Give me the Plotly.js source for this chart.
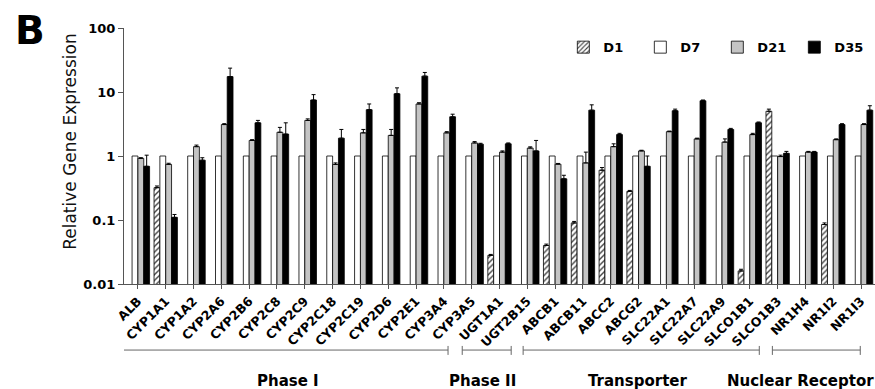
<!DOCTYPE html>
<html>
<head>
<meta charset="utf-8">
<script src="https://cdn.plot.ly/plotly-3.0.1.min.js"></script>
<style>html,body{margin:0;padding:0;background:#fff;}#chart{width:875px;height:389px;}</style>
</head>
<body>
<div id="chart"></div>
<script>
// ---- data ----
const genes = ["ALB","CYP1A1","CYP1A2","CYP2A6","CYP2B6","CYP2C8","CYP2C9","CYP2C18","CYP2C19","CYP2D6","CYP2E1","CYP3A4","CYP3A5","UGT1A1","UGT2B15","ABCB1","ABCB11","ABCC2","ABCG2","SLC22A1","SLC22A7","SLC22A9","SLCO1B1","SLCO1B3","NR1H4","NR1I2","NR1I3"];
const seriesNames = ["D1","D7","D21","D35"];
const d1  = [null,0.32,null,null,null,null,null,null,null,null,null,null,null,0.028,null,0.040,0.09,0.6,0.28,null,null,null,0.016,5.0,null,0.085,null];
const d1Err = [0,0.02,0,0,0,0,0,0,0,0,0,0,0,0.001,0,0.002,0.005,0.06,0.01,0,0,0,0.001,0.4,0,0.005,0];
const d7  = [1,1,1,1,1,1,1,1,1,1,1,1,1,1,1,1,1,1,1,1,1,1,1,1,1,1,1];
const d21 = [0.92,0.74,1.4,3.1,1.75,2.35,3.6,0.74,2.3,2.1,6.5,2.3,1.6,1.15,1.33,0.745,0.78,1.4,1.2,2.4,1.85,1.65,2.16,0.98,1.15,1.8,3.1];
const d21Err = [0.02,0.03,0.08,0.1,0.05,0.45,0.2,0.04,0.3,0.5,0.3,0.1,0.08,0.05,0.06,0.02,0.37,0.15,0.03,0.05,0.05,0.2,0.1,0.05,0.03,0.05,0.1];
const d35 = [0.69,0.11,0.86,17.4,3.3,2.2,7.5,1.9,5.3,9.4,17.7,4.1,1.53,1.55,1.2,0.44,5.2,2.16,0.69,5.1,7.3,2.6,3.3,1.1,1.15,3.1,5.2];
const d35Err = [0.34,0.012,0.08,6.2,0.3,1.1,1.6,0.7,1.2,2.2,2.5,0.4,0.05,0.05,0.55,0.06,1.1,0.1,0.31,0.3,0.2,0.1,0.1,0.08,0.03,0.1,0.9];
const yTickVals = [0.01,0.1,1,10,100];
const yTickText = ["0.01","0.1","1","10","100"];
const groupNames = ["Phase I","Phase II","Transporter","Nuclear Receptor"];

// ---- layout config ----
const FONT = "DejaVu Sans, Arial, sans-serif";
const groupSpans = [[-0.54,11.15],[11.66,13.42],[13.85,22.34],[22.81,25.97]];
const groupLabelX = [5.4,12.4,17.95,21.11];
const groupLabelAnchor = ["center","center","center","left"];

const zeros = genes.map(() => 0);
function errSpec(arr){
  return {type:"data", symmetric:false, array:arr, arrayminus:zeros, color:"#000", thickness:1, width:2};
}
const lineSpec = {color:"#000", width:0.8};
const traces = [
  {type:"bar", name:seriesNames[0], x:genes, y:d1, error_y:errSpec(d1Err),
   marker:{color:"#fff", line:lineSpec, pattern:{shape:"/", fgcolor:"#444", bgcolor:"#fff", size:4, solidity:0.35}}},
  {type:"bar", name:seriesNames[1], x:genes, y:d7,
   marker:{color:"#fff", line:lineSpec}},
  {type:"bar", name:seriesNames[2], x:genes, y:d21, error_y:errSpec(d21Err),
   marker:{color:"#c4c4c4", line:lineSpec}},
  {type:"bar", name:seriesNames[3], x:genes, y:d35, error_y:errSpec(d35Err),
   marker:{color:"#000", line:lineSpec}}
];

const shapes = [];
const annotations = [];
const yLine = -0.258, yTop = -0.242, yBot = -0.277;
groupSpans.forEach((s, i) => {
  shapes.push({type:"line", xref:"x", yref:"paper", x0:s[0], x1:s[1], y0:yLine, y1:yLine, line:{color:"#666", width:1}});
  shapes.push({type:"line", xref:"x", yref:"paper", x0:s[0], x1:s[0], y0:yTop, y1:yBot, line:{color:"#666", width:1}});
  shapes.push({type:"line", xref:"x", yref:"paper", x0:s[1], x1:s[1], y0:yTop, y1:yBot, line:{color:"#666", width:1}});
  annotations.push({xref:"x", yref:"paper", x:groupLabelX[i], y:-0.38, text:groupNames[i], showarrow:false,
    xanchor:groupLabelAnchor[i], yanchor:"middle", font:{family:FONT, size:15, weight:"bold", color:"#000"}});
});
annotations.push({xref:"paper", yref:"paper", x:-0.125, y:0.99, text:"B", showarrow:false, xanchor:"center", yanchor:"middle",
  font:{family:FONT, size:39, weight:"bold", color:"#000"}});
annotations.push({xref:"paper", yref:"paper", x:-0.072, y:0.559, text:"Relative Gene Expression", showarrow:false, textangle:-90,
  xanchor:"center", yanchor:"middle", font:{family:FONT, size:17, color:"#111"}});

const layout = {
  width:875, height:389,
  margin:{l:124, r:0, t:28, b:105, pad:0},
  paper_bgcolor:"#fff", plot_bgcolor:"#fff",
  barmode:"group", bargap:0.16, bargroupgap:0,
  showlegend:true,
  legend:{orientation:"h", x:0.585, xanchor:"left", y:0.925, yanchor:"middle", bgcolor:"rgba(0,0,0,0)",
    font:{family:FONT, size:13, weight:"bold", color:"#000"}, entrywidth:32, entrywidthmode:"pixels", traceorder:"normal"},
  xaxis:{type:"category", range:[-0.5,26.5], tickangle:-45, ticks:"outside", ticklen:4, tickcolor:"#555",
    showline:true, linecolor:"#555", linewidth:1, showgrid:false, zeroline:false,
    tickfont:{family:FONT, size:12.5, weight:"bold", color:"#000"}},
  yaxis:{type:"log", range:[-2,2], tickvals:yTickVals, ticktext:yTickText, ticks:"outside", ticklen:5, tickcolor:"#555",
    showline:true, linecolor:"#555", linewidth:1, showgrid:false, zeroline:false,
    tickfont:{family:FONT, size:13, weight:"bold", color:"#000"}},
  shapes:shapes, annotations:annotations
};

Plotly.newPlot("chart", traces, layout, {displayModeBar:false, staticPlot:true});
</script>
</body>
</html>
